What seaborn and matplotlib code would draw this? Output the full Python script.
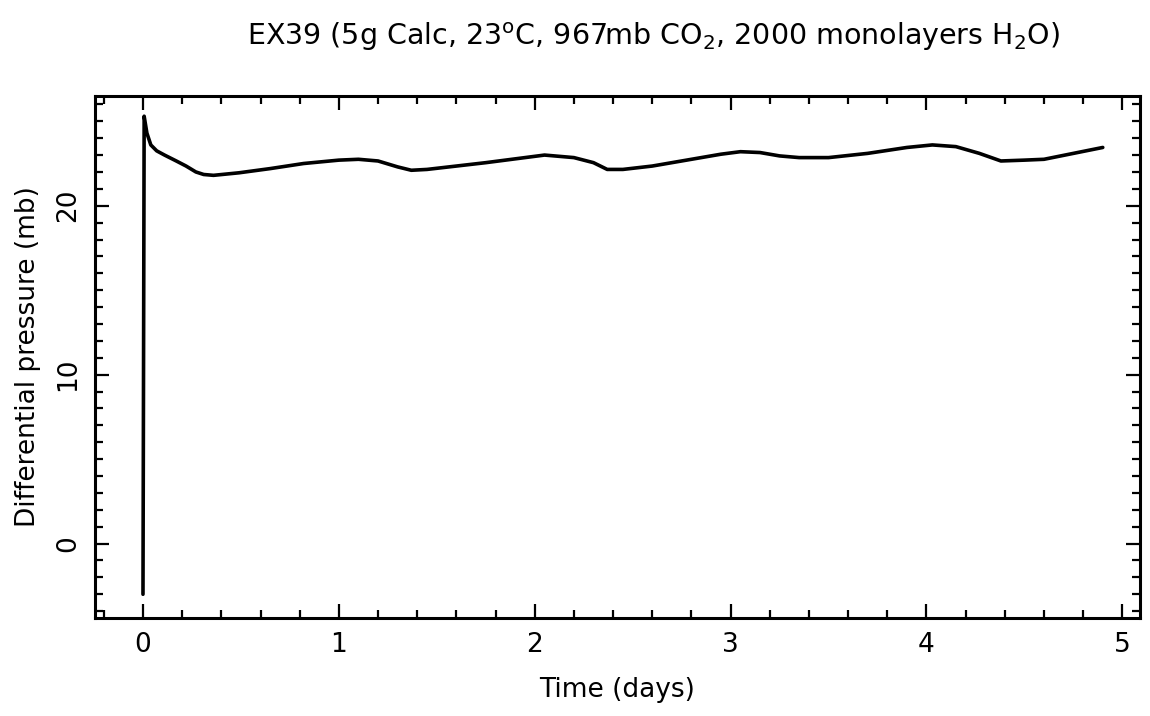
import matplotlib
matplotlib.use("Agg")
import matplotlib.pyplot as plt
import seaborn as sns
import pandas as pd
from matplotlib.ticker import MultipleLocator

# data
time_days = [0.0, 0.006, 0.02, 0.04, 0.07, 0.11, 0.17, 0.22, 0.27, 0.31, 0.36, 0.49, 0.65, 0.82,
             1.0, 1.1, 1.2, 1.3, 1.37, 1.45, 1.6, 1.75, 1.95, 2.05, 2.2, 2.3, 2.37, 2.45,
             2.6, 2.8, 2.95, 3.05, 3.15, 3.25, 3.35, 3.5, 3.7, 3.9, 4.03, 4.15, 4.27, 4.38,
             4.5, 4.6, 4.75, 4.9]
pressure_mb = [-3.0, 25.3, 24.3, 23.6, 23.25, 23.0, 22.65, 22.35, 22.0, 21.85, 21.8, 21.95, 22.2, 22.5,
               22.7, 22.75, 22.65, 22.3, 22.1, 22.15, 22.35, 22.55, 22.85, 23.0, 22.85, 22.55, 22.15, 22.15,
               22.35, 22.75, 23.05, 23.2, 23.15, 22.95, 22.85, 22.85, 23.1, 23.45, 23.6, 23.5, 23.1, 22.65,
               22.7, 22.75, 23.1, 23.45]
x_ticks = [0, 1, 2, 3, 4, 5]
y_ticks = [0, 10, 20]
title = r"EX39 (5g Calc, 23$^{\mathrm{o}}$C, 967mb CO$_2$, 2000 monolayers H$_2$O)"

sns.set_style("ticks")
plt.rcParams["font.family"] = ["DejaVu Sans"]
plt.rcParams["mathtext.default"] = "regular"
plt.rcParams["text.color"] = "black"
plt.rcParams["axes.labelcolor"] = "black"

df = pd.DataFrame({"t": time_days, "p": pressure_mb})

fig = plt.figure(figsize=(11.5, 7.16), dpi=100)
ax = fig.add_axes([0.0826, 0.137, 0.9087, 0.729])
sns.lineplot(data=df, x="t", y="p", sort=False, estimator=None, color="black",
             linewidth=2.6, ax=ax)

ax.set_xlim(-0.245, 5.09)
ax.set_ylim(-4.4, 26.5)
ax.set_xticks(x_ticks)
ax.set_yticks(y_ticks)
ax.xaxis.set_minor_locator(MultipleLocator(0.2))
ax.yaxis.set_minor_locator(MultipleLocator(1))
ax.tick_params(which="both", direction="in", top=True, right=True, colors="black",
               labelsize=19, width=1.6)
ax.tick_params(which="major", length=10, pad=10)
ax.tick_params(which="minor", length=5.5)
for lab in ax.get_yticklabels():
    lab.set_rotation(90)
    lab.set_va("center")
for s in ax.spines.values():
    s.set_linewidth(2.2)
    s.set_color("black")

ax.set_xlabel("Time (days)", fontsize=19, labelpad=14)
ax.set_ylabel("Differential pressure (mb)", fontsize=19, labelpad=10)
fig.text(0.568, 0.948, title, ha="center", va="center", fontsize=20.5)

fig.savefig("out.png", dpi=100, facecolor="white")
